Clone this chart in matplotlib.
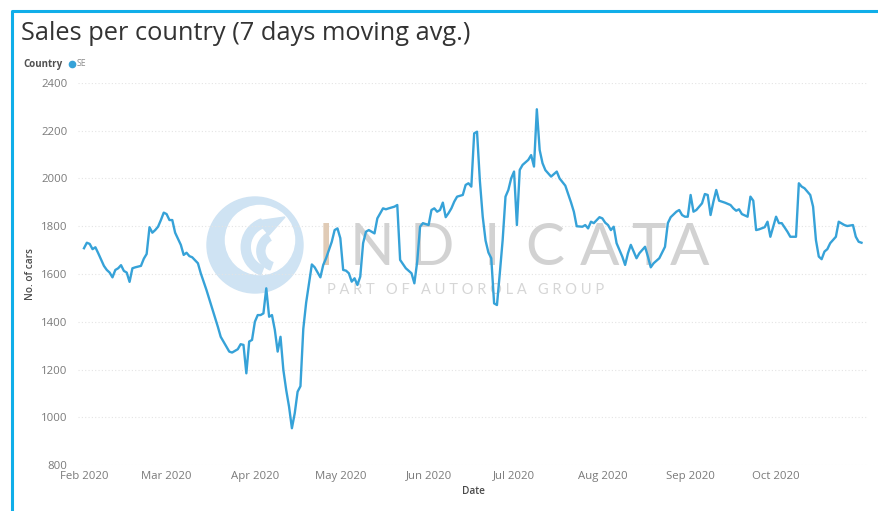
import datetime as dt

import matplotlib
matplotlib.use("Agg")
import matplotlib.pyplot as plt
import matplotlib.dates as mdates
from matplotlib.patches import Circle, Wedge, Polygon
from matplotlib.lines import Line2D

# ---- data: 7-day moving average of cars sold, country SE ----
start_date = dt.date(2020, 2, 1)
day = [0, 1, 2, 3, 4, 5, 7, 8, 9, 10, 11, 12, 13, 14, 15, 16, 17, 18, 20, 21,
       22, 23, 24, 25, 26, 27, 28, 29, 30, 31, 32, 34, 35, 36, 37, 38, 40, 41,
       43, 45, 47, 48, 50, 51, 52, 54, 55, 56, 57, 58, 59, 60, 61, 62, 63, 64,
       65, 66, 67, 68, 69, 70, 71, 72, 73, 74, 75, 76, 77, 78, 79, 80, 81, 83,
       84, 85, 87, 88, 89, 90, 91, 92, 93, 94, 95, 96, 97, 98, 99, 100, 101,
       102, 103, 105, 106, 107, 109, 110, 111, 113, 115, 116, 117, 118, 119,
       121, 122, 123, 124, 125, 126, 127, 128, 129, 130, 131, 133, 134, 135,
       136, 137, 138, 139, 140, 141, 142, 143, 144, 145, 146, 147, 148, 149,
       150, 151, 152, 153, 154, 156, 157, 158, 159, 160, 161, 162, 164, 166,
       167, 169, 171, 172, 173, 175, 176, 177, 178, 179, 181, 182, 183, 184,
       185, 186, 187, 189, 190, 191, 192, 193, 194, 195, 197, 198, 199, 200,
       202, 204, 205, 206, 208, 209, 210, 211, 212, 213, 214, 215, 217, 218,
       219, 220, 221, 222, 223, 225, 227, 228, 229, 230, 231, 233, 234, 235,
       236, 237, 239, 240, 241, 243, 244, 245, 247, 248, 250, 251, 252, 253,
       255, 256, 257, 258, 259, 260, 261, 262, 264, 265, 267, 268, 270, 271,
       272, 273]
cars = [1708, 1731, 1726, 1704, 1712, 1687, 1634, 1617, 1606, 1586, 1617, 1624,
        1637, 1613, 1606, 1567, 1624, 1628, 1634, 1664, 1684, 1796, 1773, 1784,
        1798, 1826, 1857, 1851, 1826, 1826, 1773, 1722, 1680, 1689, 1675, 1670,
        1645, 1603, 1533, 1456, 1379, 1337, 1296, 1275, 1271, 1285, 1306, 1303,
        1184, 1317, 1324, 1400, 1428, 1428, 1435, 1540, 1421, 1428, 1366, 1275,
        1337, 1198, 1114, 1044, 954, 1017, 1107, 1130, 1370, 1480, 1560, 1640,
        1628, 1586, 1638, 1666, 1735, 1784, 1791, 1750, 1617, 1614, 1603, 1568,
        1582, 1554, 1589, 1729, 1777, 1784, 1777, 1770, 1833, 1875, 1871, 1875,
        1882, 1889, 1659, 1624, 1603, 1561, 1652, 1798, 1813, 1805, 1868, 1875,
        1861, 1868, 1899, 1838, 1855, 1875, 1903, 1924, 1931, 1973, 1980, 1966,
        2189, 2196, 1990, 1840, 1740, 1690, 1666, 1477, 1470, 1603, 1742, 1924,
        1952, 2001, 2029, 1805, 2036, 2057, 2078, 2098, 2050, 2290, 2119, 2064,
        2035, 2008, 2029, 2000, 1970, 1900, 1861, 1800, 1798, 1805, 1791, 1819,
        1813, 1838, 1833, 1815, 1805, 1784, 1798, 1729, 1673, 1638, 1687, 1722,
        1694, 1666, 1687, 1714, 1673, 1628, 1645, 1666, 1714, 1813, 1838, 1861,
        1868, 1847, 1840, 1840, 1931, 1861, 1868, 1896, 1935, 1931, 1847, 1903,
        1952, 1907, 1899, 1889, 1875, 1865, 1871, 1851, 1840, 1924, 1907, 1784,
        1787, 1796, 1819, 1756, 1840, 1813, 1813, 1777, 1756, 1756, 1980, 1966,
        1959, 1931, 1882, 1742, 1673, 1662, 1694, 1704, 1729, 1756, 1819, 1805,
        1801, 1805, 1756, 1735, 1731]
dates = [start_date + dt.timedelta(days=d) for d in day]

month_ticks = [dt.date(2020, m, 1) for m in range(2, 11)]
month_labels = ["Feb 2020", "Mar 2020", "Apr 2020", "May 2020", "Jun 2020",
                "Jul 2020", "Aug 2020", "Sep 2020", "Oct 2020"]
y_ticks = [800, 1000, 1200, 1400, 1600, 1800, 2000, 2200, 2400]

title = "Sales per country (7 days moving avg.)"
legend_title = "Country"
series_name = "SE"

LINE = "#36a2d8"
FRAME = "#10aee9"
W, H = 879, 511

fig = plt.figure(figsize=(W / 100, H / 100), dpi=100)
fig.patch.set_facecolor("white")

# plot area in pixel terms
L, R, T, B = 78, 868, 83, 465
ax = fig.add_axes([L / W, 1 - B / H, (R - L) / W, (B - T) / H])
ax.set_facecolor("none")

base = mdates.date2num(start_date)
ax.set_xlim(base - (84 - L) / 2.848, base + (R - 84) / 2.848)
ax.set_ylim(800, 2400)

ax.plot(dates, cars, color=LINE, lw=1.7, zorder=5, solid_joinstyle="round")

ax.set_yticks(y_ticks)
ax.set_yticklabels([str(v) for v in y_ticks])
ax.set_xticks(month_ticks)
ax.set_xticklabels(month_labels)
ax.tick_params(axis="both", length=0, labelsize=8.2, labelcolor="#7a7a7a")
ax.tick_params(axis="x", pad=4)
ax.tick_params(axis="y", pad=7.5)
for lbl in ax.get_xticklabels() + ax.get_yticklabels():
    lbl.set_fontfamily("Open Sans")
for sp in ax.spines.values():
    sp.set_visible(False)
ax.grid(axis="y", color="#e4e4e4", lw=0.8, ls=(0, (1, 2)), zorder=0)
ax.grid(axis="x", visible=False)

ax.set_ylabel("No. of cars", fontsize=7.2, color="#4a4a4a",
              fontfamily="Open Sans", fontweight="semibold", labelpad=4)
ax.set_xlabel("Date", fontsize=7.2, color="#4a4a4a",
              fontfamily="Open Sans", fontweight="semibold", labelpad=3)

# ---- watermark behind the series ----
def fig_frac(x, y):
    return x / W, 1 - y / H

def ax_frac(x, y):
    return (x - L) / (R - L), (B - y) / (B - T)

inch = fig.dpi_scale_trans
cx, cy, r = 255 / 100, (H - 245) / 100, 0.48
logo_blue = "#cfe3f3"
ax.add_patch(Circle((cx, cy), r, transform=inch, color=logo_blue,
                    zorder=1, clip_on=False))
ax.add_patch(Circle((cx + 0.05, cy + 0.05), r * 0.72, transform=inch,
                    color="white", zorder=1, clip_on=False))
ax.add_patch(Wedge((cx + 0.16, cy - 0.02), r * 0.62, 110, 250,
                   width=0.09, transform=inch, color=logo_blue,
                   zorder=1, clip_on=False))
ax.add_patch(Wedge((cx + 0.22, cy - 0.06), r * 0.42, 120, 250,
                   width=0.08, transform=inch, color=logo_blue,
                   zorder=1, clip_on=False))
ax.add_patch(Polygon([(cx + 0.30, cy + 0.28), (cx + 0.02, cy + 0.24),
                      (cx + 0.14, cy + 0.10)], closed=True, transform=inch,
                     color=logo_blue, zorder=1, clip_on=False))

wm_letters = ["I", "N", "D", "I", "C", "A", "T", "A"]
wm_x = [326, 372, 432, 492, 545, 600, 648, 690]
for ch, xx in zip(wm_letters, wm_x):
    col = "#e0cbb6" if xx == 326 else "#d2d2d2"
    ax.text(*ax_frac(xx, 248), ch, transform=ax.transAxes, ha="center",
            va="center", fontsize=42, color=col, fontfamily="Lato",
            fontweight="normal", zorder=2, clip_on=False)
ax.text(*ax_frac(466, 290), "P A R T   O F   A U T O R O L A   G R O U P",
        transform=ax.transAxes, ha="center", va="center", fontsize=10.5,
        color="#d6d6d6", fontfamily="Lato", zorder=2, clip_on=False)

# ---- title and legend ----
fig.text(*fig_frac(21, 34), title, fontsize=18.3, color="#333333",
         fontfamily="Open Sans", ha="left", va="center")
fig.text(*fig_frac(23, 64), legend_title, fontsize=7.0, color="#505050",
         fontfamily="Open Sans", fontweight="bold", ha="left", va="center")
fig.add_artist(Line2D([72.5 / W], [1 - 64 / H], marker="o", ms=4.5,
                      color=LINE, transform=fig.transFigure))
fig.text(*fig_frac(76.5, 64), series_name, fontsize=6.2, color="#8a8a8a",
         fontfamily="Open Sans", ha="left", va="center")

# ---- frame ----
fig.add_artist(Line2D([12 / W, 12 / W, 1], [0, 1 - 11 / H, 1 - 11 / H],
                      color=FRAME, lw=2.2, transform=fig.transFigure,
                      solid_capstyle="butt"))

fig.savefig("out.png", dpi=100, facecolor="white")
